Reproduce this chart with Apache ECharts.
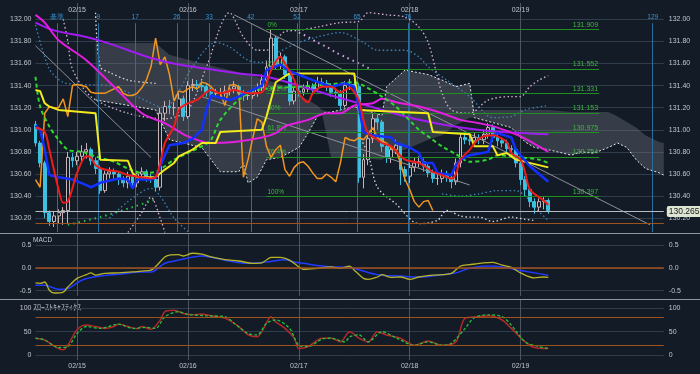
<!DOCTYPE html>
<html><head><meta charset="utf-8">
<script src="https://cdn.jsdelivr.net/npm/echarts@6/dist/echarts.min.js"></script>
<style>html,body{margin:0;padding:0;background:#131b27;}#c{width:700px;height:374px;}</style>
</head><body><div id="c"></div>
<script>
// ---------------- data ----------------
const barCount = 137;
const dayLabels = ['02/15','02/16','02/17','02/18','02/19'];
const dayBars = [9,33,57,81,105];
const mainTicks = [130.2,130.4,130.6,130.8,131.0,131.2,131.4,131.6,131.8,132.0];
const macdTicks = [-0.5,0,0.5];
const stochTicks = [0,50,100];
const timeBase = 4.6;
const timeCounts = [0,9,17,26,33,42,52,65,76,129];
const timeLabels = ['基準','9','17','26','33','42','52','65','76','129'];

const opens = [131.05,130.88,130.70,130.25,130.17,130.22,130.25,130.27,130.75,130.72,
130.76,130.80,130.82,130.72,130.65,130.45,130.60,130.62,130.60,130.55,
130.52,130.58,130.52,130.60,130.62,130.56,130.55,130.48,131.15,131.21,
131.20,131.20,131.28,131.12,131.40,131.41,131.40,131.39,131.34,131.33,
131.33,131.33,131.35,131.37,131.39,131.33,131.31,131.31,131.33,131.38,
131.45,131.57,131.83,131.59,131.66,131.50,131.26,131.35,131.34,131.37,
131.39,131.37,131.43,131.42,131.39,131.34,131.33,131.22,131.40,131.41,
131.39,130.57,130.73,130.92,131.10,131.07,130.85,130.75,130.82,130.86,
130.64,130.58,130.66,130.70,130.71,130.67,130.61,130.56,130.56,130.60,
130.57,130.53,130.70,130.93,130.91,130.90,130.93,130.91,130.96,131.02,
130.93,130.90,130.88,130.83,130.82,130.70,130.55,130.46,130.35,130.30,
130.35,130.36];
const closes = [130.88,130.70,130.25,130.17,130.22,130.25,130.27,130.75,130.72,130.76,
130.80,130.82,130.72,130.65,130.45,130.60,130.62,130.60,130.55,130.52,
130.58,130.52,130.60,130.62,130.56,130.55,130.48,131.15,131.21,131.20,
131.20,131.28,131.12,131.40,131.41,131.40,131.39,131.34,131.33,131.33,
131.33,131.35,131.37,131.39,131.33,131.31,131.31,131.33,131.38,131.45,
131.57,131.83,131.59,131.66,131.50,131.26,131.35,131.34,131.37,131.39,
131.37,131.43,131.42,131.39,131.34,131.33,131.22,131.40,131.41,131.39,
130.57,130.73,130.92,131.10,131.07,130.85,130.75,130.82,130.86,130.64,
130.58,130.66,130.70,130.71,130.67,130.61,130.56,130.56,130.60,130.57,
130.53,130.70,130.93,130.91,130.90,130.93,130.91,130.96,131.02,130.93,
130.90,130.88,130.83,130.82,130.70,130.55,130.46,130.35,130.30,130.35,
130.36,130.27];
const highs = [131.08,130.90,130.72,130.27,130.26,130.28,130.30,130.80,130.79,130.80,
130.86,130.88,130.84,130.75,130.68,130.63,130.66,130.65,130.62,130.58,
130.62,130.60,130.63,130.66,130.64,130.60,130.58,131.20,131.26,131.27,
131.25,131.33,131.31,131.44,131.46,131.45,131.44,131.42,131.38,131.37,
131.38,131.40,131.41,131.44,131.41,131.36,131.35,131.37,131.42,131.50,
131.62,131.91,131.85,131.70,131.68,131.52,131.38,131.40,131.41,131.44,
131.42,131.48,131.47,131.45,131.42,131.38,131.36,131.44,131.46,131.45,
131.42,130.78,130.97,131.15,131.14,131.09,130.88,130.86,130.91,130.88,
130.67,130.70,130.75,130.76,130.74,130.70,130.64,130.60,130.64,130.63,
130.60,130.74,130.97,130.97,130.95,130.97,130.96,131.00,131.06,131.05,
130.96,130.93,130.91,130.86,130.84,130.72,130.58,130.48,130.38,130.38,
130.39,130.38];
const lows = [130.85,130.66,130.20,130.13,130.12,130.15,130.14,130.15,130.66,130.68,
130.70,130.74,130.68,130.60,130.42,130.43,130.56,130.55,130.50,130.48,
130.47,130.49,130.48,130.55,130.53,130.52,130.44,130.45,131.08,131.14,
131.13,131.15,131.08,131.10,131.35,131.36,131.35,131.30,131.28,131.29,
131.28,131.30,131.31,131.33,131.29,131.26,131.27,131.28,131.30,131.35,
131.42,131.54,131.55,131.55,131.46,131.22,131.23,131.30,131.31,131.34,
131.33,131.34,131.38,131.35,131.30,131.28,131.18,131.20,131.36,131.35,
130.52,130.47,130.68,130.88,131.00,130.80,130.70,130.70,130.78,130.50,
130.53,130.52,130.62,130.66,130.62,130.57,130.52,130.50,130.52,130.53,
130.47,130.50,130.66,130.87,130.86,130.86,130.87,130.87,130.92,130.89,
130.85,130.84,130.79,130.76,130.66,130.50,130.40,130.30,130.24,130.26,
130.28,130.24];
const chikouShift = 25;

const redLine = [[0,131.02],[2,130.98],[3,130.82],[5,130.46],[6,130.34],[7,130.35],[9,130.61],[11,130.76],[12,130.75],[13,130.68],[15,130.64],[18,130.62],[20,130.59],[23,130.57],[25,130.56],[26,130.57],[27,130.70],[28,130.88],[30,131.03],[31,131.18],[33,131.24],[35,131.27],[38,131.36],[40,131.33],[43,131.36],[46,131.33],[49,131.34],[51,131.54],[53,131.66],[54,131.60],[56,131.45],[57,131.33],[59,131.25],[60,131.33],[62,131.39],[64,131.39],[66,131.34],[68,131.38],[69,131.34],[70,131.27],[71,131.09],[72,130.97],[74,130.91],[75,130.88],[77,130.85],[80,130.73],[83,130.70],[86,130.62],[88,130.59],[90,130.56],[91,130.60],[92,130.73],[94,130.82],[96,130.92],[99,130.95],[100,130.94],[102,130.89],[103,130.79],[105,130.73],[106,130.61],[107,130.46],[109,130.39],[110,130.36],[111,130.32]];
const blueLine = [[0,131.04],[1,131.0],[2,130.82],[3,130.59],[5,130.57],[8,130.55],[11,130.50],[12,130.48],[14,130.52],[18,130.56],[20,130.55],[21,130.47],[22,130.55],[25,130.55],[26,130.57],[28,130.77],[29,130.86],[32,130.88],[34,130.92],[36,131.0],[37,131.18],[38,131.31],[40,131.29],[42,131.27],[44,131.30],[46,131.34],[49,131.40],[50,131.54],[53,131.59],[55,131.53],[60,131.45],[64,131.39],[67,131.42],[69,131.39],[70,131.21],[71,130.98],[73,130.95],[77,130.93],[78,130.88],[81,130.84],[83,130.79],[84,130.70],[86,130.70],[87,130.61],[90,130.59],[91,130.68],[92,130.73],[94,130.77],[98,130.80],[99,130.95],[100,130.97],[103,130.93],[104,130.82],[107,130.67],[111,130.53]];
const yellowLine = [[0,131.36],[1,131.35],[2,131.24],[3,131.21],[5,131.18],[13,131.15],[14,130.73],[20,130.72],[21,130.61],[22,130.57],[26,130.57],[28,130.64],[30,130.70],[31,130.76],[34,130.82],[36,130.88],[39,130.88],[40,130.98],[49,131.0],[50,131.12],[52,131.43],[55,131.51],[69,131.51],[70,131.18],[85,131.15],[86,130.98],[94,130.96],[95,130.85],[99,130.85],[100,130.77],[102,130.79],[104,130.73],[111,130.66]];
const greenLine = [[0,131.48],[1,131.21],[3,131.03],[5,130.91],[7,130.82],[10,130.80],[13,130.76],[17,130.71],[20,130.65],[23,130.61],[26,130.62],[28,130.67],[30,130.73],[33,130.79],[36,130.85],[38,130.91],[40,131.09],[44,131.27],[48,131.36],[57,131.39],[66,131.42],[69,131.43],[71,131.40],[75,131.30],[78,131.21],[83,131.0],[85,130.94],[88,130.85],[91,130.78],[94,130.71],[98,130.73],[100,130.77],[105,130.75],[109,130.73],[111,130.70]];
const magentaLine = [[0,132.04],[2,131.97],[5,131.81],[11,131.63],[17,131.39],[23,131.15],[28,131.06],[33,130.94],[38,130.88],[43,130.89],[49,130.93],[52,130.97],[54,131.03],[59,131.09],[63,131.15],[66,131.15],[69,131.22],[73,131.24],[75,131.28],[78,131.25],[83,131.21],[88,131.15],[92,131.09],[96,131.06],[100,131.02],[105,130.94],[109,130.85],[111,130.80]];
const purpleLine = [[0,131.97],[4,131.90],[11,131.84],[16,131.78],[25,131.65],[31,131.59],[44,131.51],[50,131.48],[57,131.40],[64,131.31],[70,131.24],[75,131.18],[83,131.09],[92,131.02],[101,130.98],[111,130.96]];

// Ichimoku leading spans (A drawn dashed, B plain edge)
const cloudBars = [13,26,29,36,40,44,45,46,48,50,53,57,59,61,62,64,69,75,76,80,85,88,91,94,95,103,106,108,111,116,118,121,124,126,128,130,132,135,136];
const spanA = [131.27,131.18,130.91,130.84,130.62,130.62,130.70,130.52,130.57,130.73,130.75,130.84,130.97,131.12,131.15,131.16,131.21,131.13,131.39,131.54,131.50,131.45,131.39,131.42,131.11,131.02,130.89,130.84,130.82,130.77,130.80,130.79,130.84,130.88,130.84,130.73,130.65,130.61,130.59];
const spanB = [131.786,131.786,131.68,131.60,131.56,131.52,131.51,131.50,131.48,131.45,131.41,131.31,131.27,131.22,131.18,130.75,130.75,130.73,130.77,130.82,130.91,130.95,131.04,131.11,131.18,131.18,131.18,131.18,131.18,131.16,131.16,131.16,131.16,131.12,131.07,131.02,130.95,130.89,130.88];

// band / envelope lines (dotted)
const pinkUpper = [[6,132.0],[7,131.80],[8,131.55],[12,131.30],[20,131.15],[28,131.10],[33,131.18],[37,131.57],[42,132.06],[45,131.84],[48,131.72],[50,131.72],[54,131.89],[57,131.90],[61,131.93],[66,131.97],[70,131.98],[72,132.06],[76,132.04],[80,132.02],[83,131.93],[85,131.79],[87,131.48],[88,131.33],[90,131.18],[94,131.15],[98,131.27],[103,131.30],[105,131.30],[107,131.39],[109,131.45],[111,131.49]];
const steelUpper = [[0,131.95],[3,131.55],[6,131.43],[10,131.41],[16,131.40],[22,131.30],[28,131.20],[31,131.35],[34,131.57],[39,131.79],[42,131.75],[46,131.63],[49,131.61],[52,131.69],[57,131.79],[61,131.84],[66,131.88],[71,131.79],[74,131.72],[80,131.72],[83,131.66],[85,131.57],[89,131.45],[94,131.30],[99,131.11],[103,131.12],[106,131.18],[111,131.22]];
const whiteUpper = [[13,132.06],[14,131.57],[16,131.52],[20,131.45],[26,131.42]];
const pinkLower = [[20,130.07],[23,130.25],[25,130.39],[27,130.20],[28,130.07]];
const pinkLower2 = [[70,130.95],[72,130.78],[74,130.48],[78,130.33],[83,130.15],[87,130.18],[89,130.27],[92,130.22],[94,130.21],[96,130.21],[99,130.17],[103,130.21],[106,130.19],[108,130.18]];
const steelLower = [[16,130.20],[20,130.35],[25,130.47],[27,130.40],[30,130.20],[33,130.08]];
const steelLower2 = [[88,130.42],[92,130.40],[96,130.42],[100,130.45],[104,130.45],[106,130.40],[108,130.30],[111,130.18]];
const greenDots = [[7,130.14],[14,130.21],[21,130.30],[26,130.37]];
const sarDots = [[57,131.88],[59,131.84],[61,131.79],[63,131.75],[65,131.70],[67,131.66],[69,131.62],[71,131.58],[73,131.54]];
const trendLines = [[[0,131.76],[25,130.75]],[[43,132.04],[133,130.14]],[[36,131.30],[94,130.50]]];

const fibLevels = [131.909,131.552,131.331,131.153,130.975,130.754,130.397];
const fibPercents = ['0%','23.6%','38.2%','50%','61.8%','76.4%','100%'];
const fibRange = [50,122];
const lastPrice = 130.265;
const lowLine = 130.145;

const macdLine = [[0,-0.33],[1,-0.34],[2,-0.31],[3,-0.49],[4,-0.55],[6,-0.53],[7,-0.42],[9,-0.23],[11,-0.15],[12,-0.11],[13,-0.16],[15,-0.12],[18,-0.11],[21,-0.09],[23,-0.07],[25,-0.05],[28,0.24],[29,0.28],[31,0.29],[32,0.26],[34,0.32],[36,0.30],[38,0.24],[41,0.18],[44,0.15],[47,0.10],[49,0.11],[51,0.23],[53,0.23],[55,0.17],[57,0.02],[58,-0.03],[61,-0.01],[64,0.02],[66,-0.01],[68,0.04],[69,-0.05],[71,-0.23],[72,-0.25],[74,-0.20],[75,-0.15],[77,-0.21],[79,-0.20],[81,-0.25],[83,-0.20],[86,-0.16],[90,-0.12],[92,0.04],[94,0.07],[97,0.11],[99,0.12],[101,0.06],[103,0.01],[105,-0.11],[108,-0.22],[110,-0.20],[111,-0.21]];
const signalLine = [[0,-0.38],[2,-0.38],[5,-0.47],[7,-0.45],[10,-0.27],[14,-0.18],[18,-0.14],[23,-0.09],[25,-0.09],[28,0.10],[31,0.17],[36,0.26],[38,0.23],[43,0.13],[46,0.10],[50,0.13],[54,0.18],[56,0.13],[58,0.10],[62,0.04],[64,0.02],[68,0.01],[70,-0.04],[74,-0.15],[79,-0.18],[83,-0.20],[88,-0.15],[91,-0.11],[94,-0.01],[98,0.04],[101,0.02],[104,-0.04],[108,-0.11],[111,-0.16]];
const stochK = [[0,36],[2,32],[5,14],[6,11],[7,21],[9,54],[11,64],[13,61],[15,57],[17,61],[18,66],[20,61],[22,56],[23,61],[25,55],[27,75],[28,93],[30,96],[32,89],[34,86],[36,88],[38,84],[41,79],[44,61],[46,43],[48,39],[49,50],[51,82],[52,71],[54,57],[56,36],[57,14],[59,18],[62,36],[64,36],[66,28],[68,50],[70,36],[72,28],[74,50],[76,43],[79,36],[82,21],[85,30],[88,21],[91,28],[93,79],[96,82],[98,84],[101,75],[103,57],[106,28],[108,16],[111,14]];
const stochD = [[0,36],[2,32],[5,16],[7,18],[9,46],[11,61],[14,57],[18,66],[21,57],[24,59],[26,57],[28,82],[31,93],[33,87],[37,84],[41,82],[43,68],[46,46],[48,43],[50,68],[52,75],[55,57],[57,21],[59,18],[62,34],[64,36],[67,28],[68,39],[70,43],[72,28],[75,50],[78,37],[82,21],[85,28],[88,21],[90,25],[93,57],[95,80],[98,86],[101,82],[103,64],[106,28],[109,18],[111,14]];

// ---------------- chart ----------------
const chart = echarts.init(document.getElementById('c'));
const cats = []; for (let i = 0; i < barCount; i++) cats.push(String(i));
const isDay = (i) => dayBars.indexOf(i) >= 0;
const dayLabel = (v, i) => { const k = dayBars.indexOf(i); return k >= 0 ? dayLabels[k] : ''; };
const BG = '#131b27', GRIDC = '#303d4c', DAYC = '#4a5561', LBL = '#c2c6cc';
const FONT = 'Liberation Sans, Arial, sans-serif';
const FS = 7;

const candleData = opens.map((o, i) => [o, closes[i], lows[i], highs[i]]);
const chikou = closes.slice(chikouShift).map((c, i) => [i, c]);
const cloudLow = cloudBars.map((b, i) => [b, Math.min(spanA[i], spanB[i])]);
const cloudDiff = cloudBars.map((b, i) => [b, Math.abs(spanA[i] - spanB[i])]);

function xCat(grid, pos, showLabel) {
  return {type:'category', gridIndex:grid, data:cats, boundaryGap:false, position:pos,
    axisLine:{show:false}, axisTick:{show:false},
    axisLabel:{show:showLabel, interval:0, formatter:dayLabel, color:LBL, fontSize:FS, fontFamily:FONT, inside: pos==='top', margin: pos==='top'?4:3},
    splitLine:{show:true, interval:(i)=>isDay(i), lineStyle:{color:DAYC, width:1}}};
}
function yVal(grid, pos, min, max, ticks, fmt) {
  return {type:'value', gridIndex:grid, position:pos, min:min, max:max, scale:true,
    axisLine:{show:false}, axisTick:{show:false, customValues:ticks},
    axisLabel:{show:true, customValues:ticks, formatter:fmt, color:LBL, fontSize:FS, fontFamily:FONT, margin: pos==='left'?4:5},
    splitLine:{show: pos==='left', lineStyle:{color:GRIDC, width:1}}};
}
const lineS = (name, data, color, width, extra) => Object.assign({type:'line', name, data, xAxisIndex:0, yAxisIndex:0,
  symbol:'none', lineStyle:{color, width}, z:5, silent:true}, extra || {});
const dotS = (name, data, color, width, dash, z) => lineS(name, data, color, width, {lineStyle:{color, width, type:dash}, z: z || 2, smooth:0.3});

const fibMarks = [];
fibLevels.forEach((lv, i) => {
  fibMarks.push([{coord:[fibRange[0], lv], label:{show:true, position:'insideStartTop', formatter:fibPercents[i], color:'#3fb83f', fontSize:6.5, distance:1}},
                 {coord:[fibRange[1], lv]}]);
  fibMarks.push([{coord:[fibRange[0], lv], label:{show:true, position:'insideEndTop', formatter:lv.toFixed(3), color:'#3fb83f', fontSize:7, distance:1}},
                 {coord:[fibRange[1], lv]}]);
});
const timeMarks = timeCounts.map((n, i) => [{coord:[timeBase + n, 131.965], label:{show:true, position:'start', formatter:timeLabels[i], color:'#3a94d0', fontSize:6.5, distance:2}}, {coord:[timeBase + n, 130.075]}]);
const trendMarks = trendLines.map(p => [{coord:p[0]}, {coord:p[1]}]);

const option = {
  backgroundColor: BG,
  animation: false,
  textStyle:{fontFamily:FONT},
  grid: [
    {left:35.5, right:36.2, top:3, height:229},
    {left:35.5, right:36.2, top:234, height:62},
    {left:35.5, right:36.2, top:300, height:60}
  ],
  xAxis: [xCat(0,'top',true), xCat(1,'bottom',false), xCat(2,'bottom',true),
    {type:'value', gridIndex:0, min:0, max:barCount-1, show:false}],
  yAxis: [
    yVal(0,'left',130.075,132.1475,mainTicks,(v)=>v.toFixed(2)),
    yVal(0,'right',130.075,132.1475,mainTicks,(v)=>v.toFixed(2)),
    yVal(1,'left',-0.616,0.741,macdTicks,(v)=>v.toFixed(1)),
    yVal(1,'right',-0.616,0.741,macdTicks,(v)=>v.toFixed(1)),
    yVal(2,'left',-10.7,117.8,stochTicks,(v)=>String(v)),
    yVal(2,'right',-10.7,117.8,stochTicks,(v)=>String(v))
  ],
  graphic: [
    {type:'line', shape:{x1:0,y1:233.5,x2:700,y2:233.5}, style:{stroke:'#8f969f', lineWidth:1}},
    {type:'line', shape:{x1:0,y1:299.5,x2:700,y2:299.5}, style:{stroke:'#8f969f', lineWidth:1}},
    {type:'text', left:33, top:237, style:{text:'MACD', fill:'#c4c8ce', font:'6.5px Liberation Sans, Arial'}},
    {type:'text', left:33, top:303, style:{text:'ｽﾛｰｽﾄｷｬｽﾃｨｸｽ', fill:'#c4c8ce', font:'8px Noto Sans CJK JP'}}
  ],
  series: [
    {type:'line', name:'cloudBase', data:cloudLow, stack:'cloud', symbol:'none', lineStyle:{opacity:0}, z:1, silent:true},
    {type:'line', name:'cloudFill', data:cloudDiff, stack:'cloud', symbol:'none', lineStyle:{opacity:0},
      areaStyle:{color:'rgba(120,126,132,0.5)'}, z:1, silent:true},
    lineS('spanA', cloudBars.map((b,i)=>[b,spanA[i]]), '#e6e6e6', 1, {lineStyle:{color:'#e6e6e6', width:1, type:[2,2]}, z:2}),
    {type:'line', name:'time', data:[], xAxisIndex:3, yAxisIndex:0, silent:true,
      markLine:{silent:true, symbol:['none','none'], lineStyle:{color:'#2a6f9e', width:1, type:'solid'}, data:timeMarks}, z:2},
    dotS('pinkUpper', pinkUpper, '#d6b2d6', 1.3, [1.5,2.5]),
    dotS('steelUpper', steelUpper, '#3f86b6', 1.3, [1.5,2.5]),
    dotS('whiteUpper', whiteUpper, '#dcdcdc', 1.3, [1.5,2.5]),
    dotS('pinkLower', pinkLower, '#d6b2d6', 1.3, [1.5,2.5]),
    dotS('pinkLower2', pinkLower2, '#dcdcdc', 1.3, [1.5,2.5]),
    dotS('steelLower', steelLower, '#3f86b6', 1.3, [1.5,2.5]),
    dotS('steelLower2', steelLower2, '#3f86b6', 1.3, [1.5,2.5]),
    dotS('greenDots', greenDots, '#2ec24a', 2, [1.5,4]),
    dotS('sarDots', sarDots, '#d7a6e8', 2, [1.5,4]),
    lineS('trend', [], '#8a8f96', 1, {markLine:{silent:true, symbol:['none','none'], lineStyle:{color:'#8d9198', width:1, type:'solid'}, label:{show:false}, data:trendMarks}, z:2}),
    lineS('fib', [], '#1f8a1f', 1, {markLine:{silent:true, symbol:['none','none'], lineStyle:{color:'#1f8f1f', width:1, type:'solid'}, data:fibMarks}, z:3}),
    {type:'candlestick', name:'price', data:candleData, xAxisIndex:0, yAxisIndex:0, barWidth:3.4, clip:false, z:4,
      itemStyle:{color:BG, color0:'#3dbfe0', borderColor:'#c7b4b6', borderColor0:'#3dbfe0', borderWidth:1},
      markLine:{silent:true, symbol:['none','none'], data:[
        {yAxis:lastPrice, lineStyle:{color:'#b8bcc2', width:1, type:'solid'},
          label:{show:true, position:'end', formatter:lastPrice.toFixed(3), backgroundColor:'#dde6d2', color:'#1a1a1a', fontSize:8.5, padding:[1,2,1,2], borderRadius:2, distance:3}},
        {yAxis:lowLine, lineStyle:{color:'#a0521c', width:1, type:'solid'}, label:{show:false}}
      ]}},
    lineS('chikou', chikou, '#f0961e', 1.5),
    lineS('purple', purpleLine, '#a21cf2', 2, {smooth:0.3}),
    lineS('magenta', magentaLine, '#e41ee0', 2, {smooth:0.3}),
    lineS('green', greenLine, '#2ed82e', 2, {smooth:0.3, lineStyle:{color:'#2ed82e', width:2, type:[4,3]}}),
    lineS('yellow', yellowLine, '#f2ea1c', 2),
    lineS('blue', blueLine, '#1230ff', 2.5),
    lineS('red', redLine, '#ee1c1c', 2, {smooth:0.3}),
    {type:'line', data:macdLine, xAxisIndex:1, yAxisIndex:2, symbol:'none', smooth:0.3, lineStyle:{color:'#b8b428', width:1.3}, z:4,
      markLine:{silent:true, symbol:['none','none'], data:[{yAxis:0, lineStyle:{color:'#a0521c', width:1.5, type:'solid'}, label:{show:false}}]}},
    {type:'line', data:signalLine, xAxisIndex:1, yAxisIndex:2, symbol:'none', smooth:0.3, lineStyle:{color:'#1f3cff', width:1.5}, z:3},
    {type:'line', data:stochK, xAxisIndex:2, yAxisIndex:4, symbol:'none', smooth:0.3, lineStyle:{color:'#b42828', width:1.5}, z:3,
      markLine:{silent:true, symbol:['none','none'], data:[
        {yAxis:80, lineStyle:{color:'#a0521c', width:1, type:'solid'}, label:{show:false}},
        {yAxis:20, lineStyle:{color:'#a0521c', width:1, type:'solid'}, label:{show:false}}]}},
    {type:'line', data:stochD, xAxisIndex:2, yAxisIndex:4, symbol:'none', smooth:0.3, lineStyle:{color:'#22c43a', width:1.3, type:[3,2]}, z:4}
  ]
};
chart.setOption(option);
</script></body></html>
